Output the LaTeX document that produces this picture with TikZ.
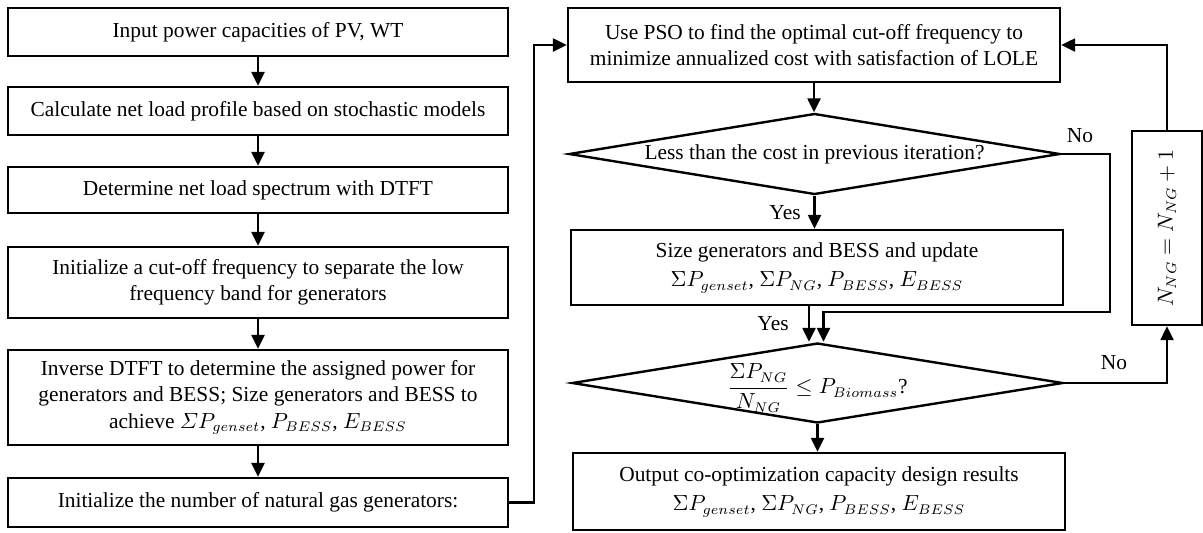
\documentclass[tikz,border=0pt]{standalone}
\usepackage{amsmath}
\usepackage{fontspec}
\setmainfont{Liberation Serif}
\usetikzlibrary{arrows.meta,shapes.geometric}
\begin{document}
\begin{tikzpicture}[x=0.5pt,y=-0.5pt,
  every node/.style={font=\fontsize{10.7}{12.8}\selectfont},
  box/.style={draw, line width=1.2pt, align=center, inner sep=0pt, minimum width=250pt},
  rbox/.style={draw, line width=1.2pt, align=center, inner sep=0pt, minimum width=246pt},
  dia/.style={draw, diamond, line width=1.2pt, inner sep=0pt, minimum width=245.5pt, minimum height=40.5pt},
  arr/.style={line width=1.2pt, -{Triangle[length=7pt,width=6.5pt]}},
  lbl/.style={inner sep=0pt}]
\useasboundingbox (0,0) rectangle (1203,532);

% left column
\node[box, minimum height=24pt] (b1) at (258,32) {Input power capacities of PV, WT};
\node[box, minimum height=24pt] (b2) at (258,111) {Calculate net load profile based on stochastic models};
\node[box, minimum height=23pt] (b3) at (258,190) {Determine net load spectrum with DTFT};
\node[box, minimum height=35.5pt] (b4) at (258,282.5) {Initialize a cut-off frequency to separate the low\\frequency band for generators};
\node[box, minimum height=47.5pt] (b5) at (258,397.5) {Inverse DTFT to determine the assigned power for\\generators and BESS; Size generators and BESS to\\[1pt]achieve $\varSigma P_{genset}$, $P_{BESS}$, $E_{BESS}$};
\node[box, minimum height=24.5pt] (b6) at (258,502.5) {Initialize the number of natural gas generators:};

% right column
\node[rbox, minimum height=37pt] (pso) at (814,45) {Use PSO to find the optimal cut-off frequency to\\minimize annualized cost with satisfaction of LOLE};
\node[dia] (d1) at (814.5,154) {};
\node[lbl] (d1t) at (d1) {Less than the cost in previous iteration?};
\node[rbox, minimum height=37.5pt] (size) at (817,267.5) {Size generators and BESS and update\\[2pt]$\Sigma P_{genset}$, $\Sigma P_{NG}$, $P_{BESS}$, $E_{BESS}$};
\node[dia, minimum height=40pt] (d2) at (817.5,383) {};
\node[lbl] (d2t) at (817.5,388) {$\dfrac{\Sigma P_{NG}}{N_{NG}} \leq P_{Biomass}$?};
\node[rbox, minimum height=38.5pt] (out) at (819,491.5) {Output co-optimization capacity design results\\[2pt]$\Sigma P_{genset}$, $\Sigma P_{NG}$, $P_{BESS}$, $E_{BESS}$};
\node[draw, line width=1.2pt, inner sep=0pt, minimum width=35pt, minimum height=97pt] (nng) at (1167,228) {};
\node[lbl, rotate=90] (nngt) at (nng) {$N_{NG} = N_{NG} + 1$};

% labels
\node[lbl] (no1) at (1080,136) {No};
\node[lbl] (yes1) at (785,213) {Yes};
\node[lbl] (yes2) at (773,324) {Yes};
\node[lbl] (no2) at (1114,363) {No};

% connectors
\draw[arr] (b1) -- (b2);
\draw[arr] (b2) -- (b3);
\draw[arr] (b3) -- (b4);
\draw[arr] (b4) -- (b5);
\draw[arr] (b5) -- (b6);
\draw[arr] (b6.east) -- ++(25,0) |- (pso.west);
\draw[arr] (pso.south) -- (pso.south |- d1.north);
\draw[arr] (d1.south) -- (d1.south |- size.north);
\draw[arr] ([xshift=-4pt]size.south) -- ([xshift=-4pt]size.south |- d2.north);
\draw[arr] (d1.east) -- ++(49,0) |- ([xshift=3pt,yshift=15pt]d2.north) -- ([xshift=3pt]d2.north);
\draw[arr] (d2.south) -- (d2.south |- out.north);
\draw[arr] (d2.east) -| (nng.south);
\draw[arr] (nng.north) |- (pso.east);
\end{tikzpicture}
\end{document}
